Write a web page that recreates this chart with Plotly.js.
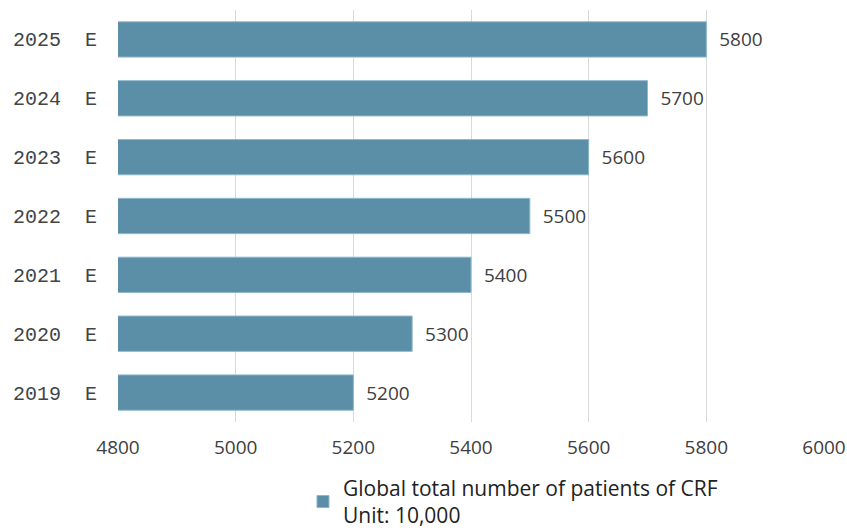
<!DOCTYPE html>
<html>
<head>
<meta charset="utf-8">
<script src="https://cdn.plot.ly/plotly-3.0.1.min.js"></script>
<style>html,body{margin:0;padding:0;background:#fff;}#chart{width:847px;height:531px;}</style>
</head>
<body>
<div id="chart"></div>
<script>
const years = ["2019  E", "2020  E", "2021  E", "2022  E", "2023  E", "2024  E", "2025  E"];
const patients = [5200, 5300, 5400, 5500, 5600, 5700, 5800];
const seriesName = "Global total number of patients of CRF<br>Unit: 10,000";
const xTicks = [4800, 5000, 5200, 5400, 5600, 5800, 6000];

const trace = {
  type: "bar",
  orientation: "h",
  y: years,
  x: patients,
  name: seriesName,
  marker: {color: "#5a8fa7", line: {color: "#8fb8cc", width: 1}},
  texttemplate: "\u00a0\u00a0%{x}",
  textposition: "outside",
  cliponaxis: false,
  textfont: {family: "Open Sans, Noto Sans, sans-serif", size: 19, color: "#404040"},
  showlegend: true
};

const layout = {
  width: 847, height: 531,
  margin: {l: 118, r: 23, t: 10, b: 109, autoexpand: false},
  paper_bgcolor: "#fff", plot_bgcolor: "#fff",
  bargap: 0.4,
  showlegend: true,
  xaxis: {
    range: [4800, 6000],
    tickvals: xTicks,
    ticktext: xTicks.map(String),
    showgrid: true, gridcolor: "#d9d9d9", gridwidth: 1,
    zeroline: false, showline: false,
    ticks: "",
    automargin: false,
    tickfont: {family: "Open Sans, Noto Sans, sans-serif", size: 19, color: "#404040"},
    ticklabelstandoff: 12
  },
  yaxis: {
    type: "category",
    showgrid: false, zeroline: false, showline: false,
    ticks: "",
    automargin: false,
    tickfont: {family: "Liberation Mono, DejaVu Sans Mono, monospace", size: 20, color: "#444"},
    ticklabelstandoff: 20
  },
  legend: {
    orientation: "h",
    x: 0.262, xanchor: "left",
    y: -0.111, yanchor: "top",
    font: {family: "Open Sans, Noto Sans, sans-serif", size: 21, color: "#222"},
    bgcolor: "rgba(0,0,0,0)"
  }
};

Plotly.newPlot("chart", [trace], layout, {staticPlot: true, displayModeBar: false});
</script>
</body>
</html>
